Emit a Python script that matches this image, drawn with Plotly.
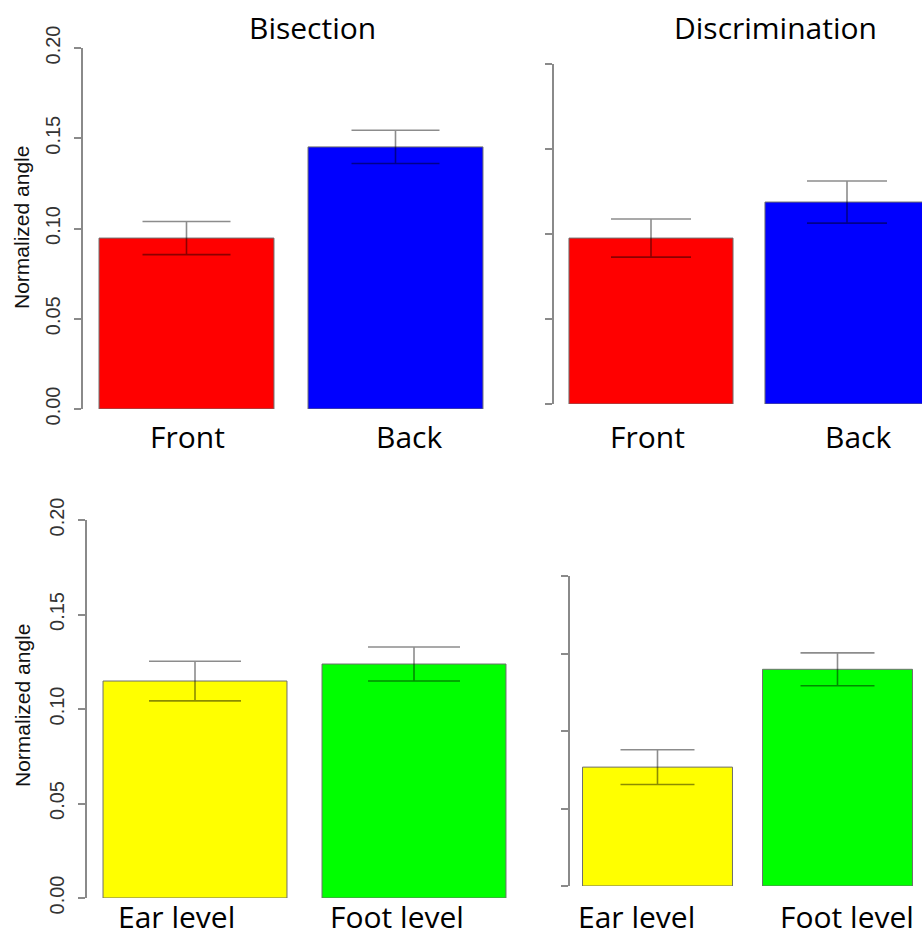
import plotly.graph_objects as go

# ---------------- data ----------------
top_categories = ["Front", "Back"]
bottom_categories = ["Ear level", "Foot level"]
titles = ["Bisection", "Discrimination"]

bis_fb_mean = [0.0947, 0.1452]
bis_fb_se = [0.0092, 0.0092]
dis_fb_mean = [0.0976, 0.1188]
dis_fb_se = [0.0112, 0.0124]

bis_ef_mean = [0.1148, 0.1238]
bis_ef_se = [0.0105, 0.0090]
dis_ef_mean = [0.0767, 0.1398]
dis_ef_se = [0.0112, 0.0106]

top_colors = ["#FF0000", "#0000FF"]
bottom_colors = ["#FFFF00", "#00FF00"]

y_tickvals = [0.0, 0.05, 0.10, 0.15, 0.20]
y_ticktext = ["0.00", "0.05", "0.10", "0.15", "0.20"]
y_label = "Normalized angle"

# ---------------- layout helpers (pixel geometry) ----------------
W, H = 922, 937


def xd(px):
    return px / W


def yd(py):
    return 1 - py / H


# per panel: axis-line x, first bar centre, bar spacing, right edge px, y px of 0 and 0.2, bar width frac, cap half-width
panels = [
    dict(cats=top_categories, mean=bis_fb_mean, se=bis_fb_se, colors=top_colors,
         x0=83, c0=186.5, s=209, xr=521, y0=409, y1=48, wf=0.837, cap=44, labels=True),
    dict(cats=top_categories, mean=dis_fb_mean, se=dis_fb_se, colors=top_colors,
         x0=554, c0=651, s=196, xr=922, y0=404, y1=64, wf=0.837, cap=40, labels=False),
    dict(cats=bottom_categories, mean=bis_ef_mean, se=bis_ef_se, colors=bottom_colors,
         x0=87, c0=195, s=219, xr=545, y0=898, y1=520, wf=0.840, cap=46, labels=True),
    dict(cats=bottom_categories, mean=dis_ef_mean, se=dis_ef_se, colors=bottom_colors,
         x0=570, c0=657.5, s=180, xr=922, y0=886, y1=576, wf=0.833, cap=37, labels=False),
]

fig = go.Figure()
layout = {}
axis_col = "#8a8a8a"
for i, p in enumerate(panels):
    n = "" if i == 0 else str(i + 1)
    fig.add_trace(go.Bar(
        x=p["cats"], y=p["mean"], width=[p["wf"]] * len(p["cats"]),
        marker=dict(color=p["colors"], line=dict(color="#6e6e6e", width=1)),
        error_y=dict(type="data", array=p["se"], visible=True,
                     color="rgba(0,0,0,0.45)", thickness=1.6, width=p["cap"]),
        xaxis="x" + n, yaxis="y" + n, showlegend=False, hoverinfo="skip",
    ))
    layout["xaxis" + n] = dict(
        domain=[xd(p["x0"]), xd(p["xr"])],
        range=[(p["x0"] - p["c0"]) / p["s"], (p["xr"] - p["c0"]) / p["s"]],
        anchor="y" + n, visible=False, type="category", automargin=False,
        categoryorder="array", categoryarray=p["cats"],
    )
    layout["yaxis" + n] = dict(
        domain=[yd(p["y0"]), yd(p["y1"])], range=[0, 0.2], anchor="x" + n,
        showline=True, linecolor=axis_col, linewidth=2, mirror=False,
        ticks="outside", ticklen=7, tickwidth=2, tickcolor=axis_col,
        tickvals=y_tickvals, ticktext=y_ticktext, tickangle=-90,
        showticklabels=p["labels"], ticklabelstandoff=6, automargin=False,
        tickfont=dict(family="Liberation Sans, Arial", size=20, color="#333333"),
        showgrid=False, zeroline=False,
    )

annotations = []
lab_font = dict(family="Open Sans, Lato, sans-serif", size=30, color="#000000")
# titles
annotations.append(dict(text=titles[0], x=xd(312), y=yd(27), xref="paper", yref="paper",
                        showarrow=False, xanchor="center", yanchor="middle", font=lab_font))
annotations.append(dict(text=titles[1], x=xd(775), y=yd(27), xref="paper", yref="paper",
                        showarrow=False, xanchor="center", yanchor="middle", font=lab_font))
# category labels
label_pos = [
    (top_categories, [187, 409], 436),
    (top_categories, [647, 858], 436),
    (bottom_categories, [176, 397], 916),
    (bottom_categories, [636, 847], 916),
]
for cats, xs, yy in label_pos:
    for c, xx in zip(cats, xs):
        annotations.append(dict(text=c, x=xd(xx), y=yd(yy), xref="paper", yref="paper",
                                showarrow=False, xanchor="center", yanchor="middle", font=lab_font))
# y-axis titles
for yy in [228, 706]:
    annotations.append(dict(text=y_label, x=xd(22), y=yd(yy), xref="paper", yref="paper",
                            showarrow=False, xanchor="center", yanchor="middle", textangle=-90,
                            font=dict(family="Liberation Sans, Arial", size=21, color="#111111")))

fig.update_layout(
    template="none",
    width=W, height=H, margin=dict(l=0, r=0, t=0, b=0, autoexpand=False),
    paper_bgcolor="white", plot_bgcolor="white",
    annotations=annotations, **layout,
)
fig.write_html("out.html", config={"displayModeBar": False})
